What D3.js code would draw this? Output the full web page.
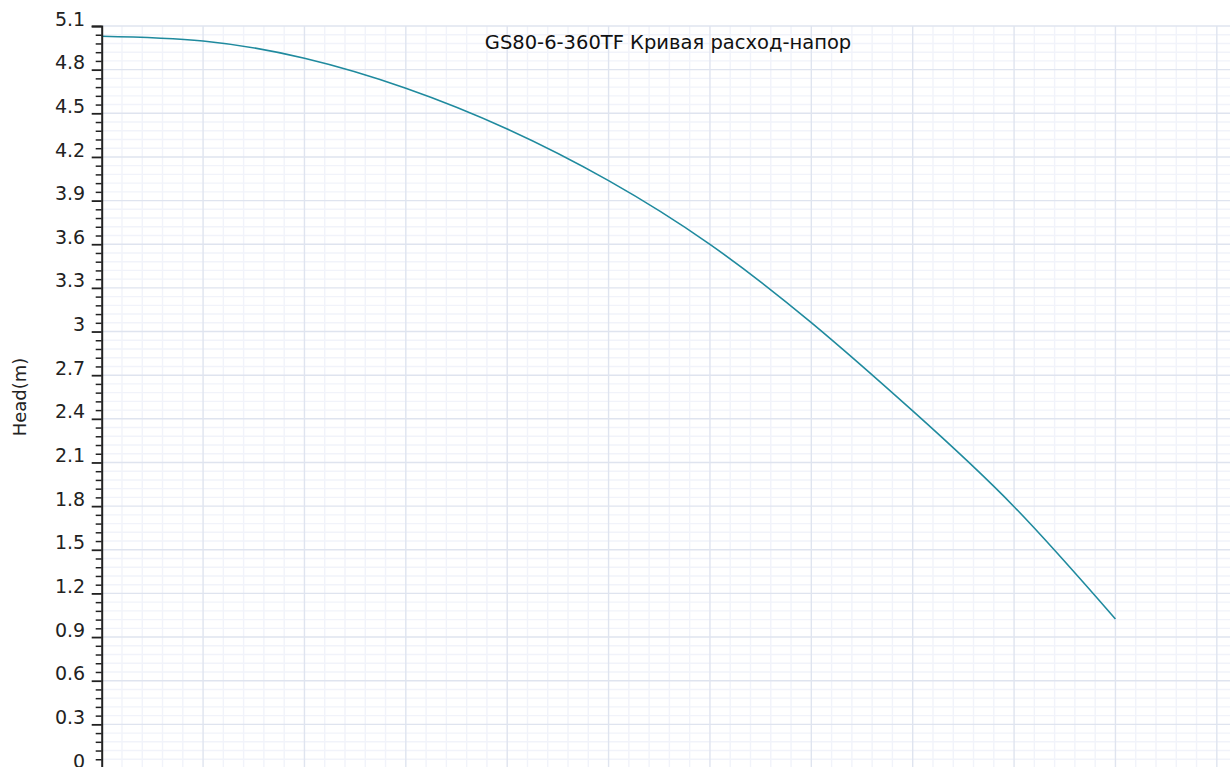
<!DOCTYPE html>
<html>
<head>
<meta charset="utf-8">
<script src="https://cdn.jsdelivr.net/npm/d3@7/dist/d3.min.js"></script>
<style>
  html, body { margin: 0; padding: 0; background: #fff; overflow: hidden; }
  svg { display: block; font-family: "DejaVu Sans", sans-serif; }
</style>
</head>
<body>
<svg id="chart" width="1230" height="767"></svg>
<script>
// ---- data ----
const flow = [0, 1, 2, 3, 4, 5, 6, 7, 8, 9, 10];
const head = [5.03, 4.997, 4.878, 4.672, 4.392, 4.037, 3.599, 3.061, 2.454, 1.796, 1.024];
const yTicks = [0, 0.3, 0.6, 0.9, 1.2, 1.5, 1.8, 2.1, 2.4, 2.7, 3, 3.3, 3.6, 3.9, 4.2, 4.5, 4.8, 5.1];
const yTickLabels = ["0", "0.3", "0.6", "0.9", "1.2", "1.5", "1.8", "2.1", "2.4", "2.7", "3", "3.3", "3.6", "3.9", "4.2", "4.5", "4.8", "5.1"];
const xMajor = [0, 1, 2, 3, 4, 5, 6, 7, 8, 9, 10, 11];
const xDomain = [0, 11.13];
const yDomain = [0, 5.1];
const title = "GS80-6-360TF Кривая расход-напор";
const yLabel = "Head(m)";

// ---- layout ----
const W = 1230, H = 767;
const mLeft = 101.7, mTop = 26, mBottom = 768, mRight = 1230;

const svg = d3.select("#chart");
const x = d3.scaleLinear().domain(xDomain).range([mLeft, mRight]);
const y = d3.scaleLinear().domain(yDomain).range([mBottom, mTop]);

// minor values
const yMinor = [];
for (let i = 0; i < yTicks.length - 1; i++) {
  for (let k = 1; k < 5; k++) yMinor.push(yTicks[i] + (yTicks[i + 1] - yTicks[i]) * k / 5);
}
const xMinor = [];
for (let i = 0; i < xMajor.length; i++) {
  for (let k = 1; k < 5; k++) {
    const v = xMajor[i] + k / 5;
    if (v <= xDomain[1]) xMinor.push(v);
  }
}

const grid = svg.append("g");
// minor grid
grid.selectAll(".hmin").data(yMinor).enter().append("line")
  .attr("x1", mLeft).attr("x2", mRight)
  .attr("y1", d => y(d)).attr("y2", d => y(d))
  .attr("stroke", "#f1f3fa").attr("stroke-width", 1.4);
grid.selectAll(".vmin").data(xMinor).enter().append("line")
  .attr("y1", mTop).attr("y2", mBottom)
  .attr("x1", d => x(d)).attr("x2", d => x(d))
  .attr("stroke", "#f1f3fa").attr("stroke-width", 1.4);
// major grid
grid.selectAll(".hmaj").data(yTicks).enter().append("line")
  .attr("x1", mLeft).attr("x2", mRight)
  .attr("y1", d => y(d)).attr("y2", d => y(d))
  .attr("stroke", "#dfe4ef").attr("stroke-width", 1.4);
grid.selectAll(".vmaj").data(xMajor.filter(d => d > 0)).enter().append("line")
  .attr("y1", mTop).attr("y2", mBottom)
  .attr("x1", d => x(d)).attr("x2", d => x(d))
  .attr("stroke", "#dfe4ef").attr("stroke-width", 1.4);

// curve
const line = d3.line()
  .x((d, i) => x(flow[i]))
  .y(d => y(d))
  .curve(d3.curveNatural);
svg.append("path")
  .datum(head)
  .attr("d", line)
  .attr("fill", "none")
  .attr("stroke", "#1f8a9e")
  .attr("stroke-width", 1.6);

// y axis minor ticks
const yMinorAxis = d3.axisLeft(y).tickValues(yMinor).tickSize(6).tickFormat("");
svg.append("g").attr("transform", `translate(${mLeft},0)`).call(yMinorAxis)
  .call(g => g.select(".domain").remove())
  .call(g => g.selectAll(".tick line").attr("stroke", "#222").attr("stroke-width", 1.5));

// y axis major
const yAxis = d3.axisLeft(y).tickValues(yTicks).tickSize(10).tickPadding(6.5)
  .tickFormat((d, i) => yTickLabels[i]);
svg.append("g").attr("transform", `translate(${mLeft},0)`).call(yAxis)
  .call(g => g.select(".domain").attr("stroke", "#222").attr("stroke-width", 2))
  .call(g => g.selectAll(".tick line").attr("stroke", "#222").attr("stroke-width", 1.8))
  .call(g => g.selectAll(".tick text")
    .attr("dy", "-0.05em")
    .attr("fill", "#222")
    .style("font-size", "19px")
    .style("font-family", "DejaVu Sans, sans-serif"));

// title
svg.append("text")
  .attr("x", 668).attr("y", 49)
  .attr("text-anchor", "middle")
  .attr("fill", "#111")
  .style("font-size", "19.5px")
  .text(title);

// y label
svg.append("text")
  .attr("transform", `translate(26,${(mTop + mBottom) / 2}) rotate(-90)`)
  .attr("text-anchor", "middle")
  .attr("fill", "#222")
  .style("font-size", "18px")
  .text(yLabel);
</script>
</body>
</html>
